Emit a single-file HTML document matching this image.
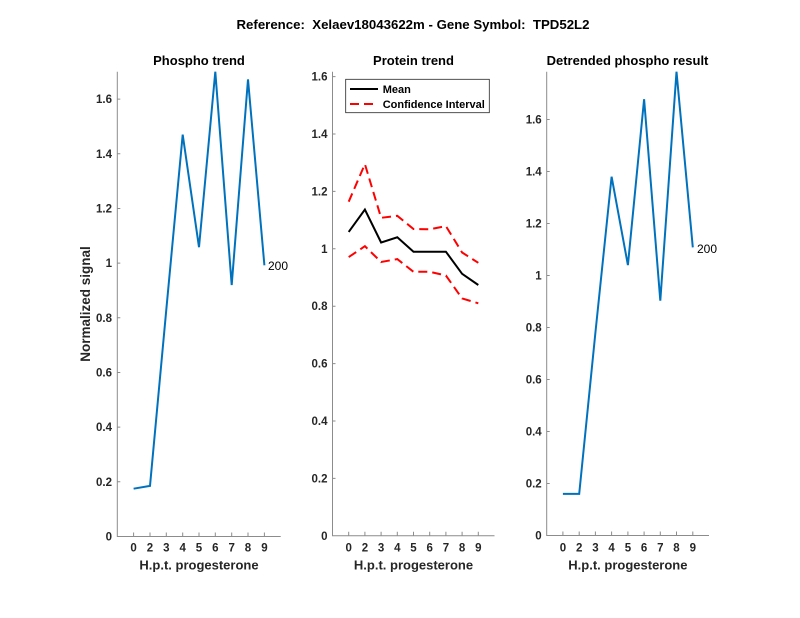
<!DOCTYPE html>
<html><head><meta charset="utf-8"><style>
html,body{margin:0;padding:0;background:#fff;}
svg{display:block;}
text{font-family:"Liberation Sans",Arial,sans-serif;fill:#262626;}
.t{font-size:11.5px;font-weight:bold;}
.ti{font-size:13px;font-weight:bold;fill:#000;}
.ax{stroke:#8c8c8c;stroke-width:1;fill:none;}
</style></head><body>
<svg width="800" height="618" viewBox="0 0 800 618" xmlns="http://www.w3.org/2000/svg">
<rect width="800" height="618" fill="#fff"/>
<text class="ti" x="413" y="29" text-anchor="middle" textLength="353" lengthAdjust="spacingAndGlyphs" xml:space="preserve">Reference:&#160; Xelaev18043622m - Gene Symbol:&#160; TPD52L2</text>

<!-- Panel 1 -->
<text class="ti" x="199" y="65" text-anchor="middle">Phospho trend</text>
<path class="ax" d="M117.3,71.7 V536.5 H280.7"/>
<g class="ax">
<path d="M133.6,536.5v-4 M150,536.5v-4 M166.3,536.5v-4 M182.7,536.5v-4 M199,536.5v-4 M215.3,536.5v-4 M231.7,536.5v-4 M248,536.5v-4 M264.4,536.5v-4"/>
<path d="M117.3,481.8h3 M117.3,427.1h3 M117.3,372.5h3 M117.3,317.8h3 M117.3,263.1h3 M117.3,208.5h3 M117.3,153.8h3 M117.3,99.1h3"/>
</g>
<g class="t" text-anchor="end">
<text x="112" y="540.5">0</text><text x="112" y="485.8">0.2</text><text x="112" y="431.1">0.4</text><text x="112" y="376.5">0.6</text><text x="112" y="321.8">0.8</text><text x="112" y="267.1">1</text><text x="112" y="212.5">1.2</text><text x="112" y="157.8">1.4</text><text x="112" y="103.1">1.6</text>
</g>
<g class="t" text-anchor="middle">
<text x="133.6" y="551.5">0</text><text x="150" y="551.5">2</text><text x="166.3" y="551.5">3</text><text x="182.7" y="551.5">4</text><text x="199" y="551.5">5</text><text x="215.3" y="551.5">6</text><text x="231.7" y="551.5">7</text><text x="248" y="551.5">8</text><text x="264.4" y="551.5">9</text>
</g>
<text class="ti" x="199" y="569.5" text-anchor="middle" style="fill:#262626">H.p.t. progesterone</text>
<text class="ti" transform="translate(90,304) rotate(-90)" text-anchor="middle" style="fill:#262626;font-size:13.5px">Normalized signal</text>
<polyline fill="none" stroke="#0072BD" stroke-width="2" stroke-linejoin="miter" points="133.6,488.7 150,485.9 166.3,309.6 182.7,134.6 199,247.2 215.3,71.7 231.7,285 248,79.4 264.4,265.3"/>
<text x="268" y="270" style="font-size:12px;fill:#000">200</text>

<!-- Panel 2 -->
<text class="ti" x="413.5" y="65" text-anchor="middle">Protein trend</text>
<path class="ax" d="M332.5,71.7 V535.8 H494.5"/>
<g class="ax">
<path d="M348.7,535.8v-4 M364.9,535.8v-4 M381.1,535.8v-4 M397.3,535.8v-4 M413.5,535.8v-4 M429.7,535.8v-4 M445.9,535.8v-4 M462.1,535.8v-4 M478.3,535.8v-4"/>
<path d="M332.5,478.4h3 M332.5,421h3 M332.5,363.6h3 M332.5,306.2h3 M332.5,248.8h3 M332.5,191.4h3 M332.5,134h3 M332.5,76.6h3"/>
</g>
<g class="t" text-anchor="end">
<text x="327.5" y="539.8">0</text><text x="327.5" y="482.4">0.2</text><text x="327.5" y="425">0.4</text><text x="327.5" y="367.6">0.6</text><text x="327.5" y="310.2">0.8</text><text x="327.5" y="252.8">1</text><text x="327.5" y="195.4">1.2</text><text x="327.5" y="138">1.4</text><text x="327.5" y="80.6">1.6</text>
</g>
<g class="t" text-anchor="middle">
<text x="348.7" y="551.5">0</text><text x="364.9" y="551.5">2</text><text x="381.1" y="551.5">3</text><text x="397.3" y="551.5">4</text><text x="413.5" y="551.5">5</text><text x="429.7" y="551.5">6</text><text x="445.9" y="551.5">7</text><text x="462.1" y="551.5">8</text><text x="478.3" y="551.5">9</text>
</g>
<text class="ti" x="413.5" y="569.5" text-anchor="middle" style="fill:#262626">H.p.t. progesterone</text>
<polyline fill="none" stroke="#ff0000" stroke-width="2" stroke-dasharray="9,5" points="348.7,201.7 364.9,164.1 381.1,217.8 397.3,215.8 413.5,229 429.7,229.3 445.9,226.1 462.1,252.5 478.3,262.8"/>
<polyline fill="none" stroke="#ff0000" stroke-width="2" stroke-dasharray="9,5" points="348.7,257.1 364.9,246.2 381.1,262 397.3,259.1 413.5,271.8 429.7,271.8 445.9,275.5 462.1,298.4 478.3,303.3"/>
<polyline fill="none" stroke="#000" stroke-width="2" points="348.7,231.9 364.9,209.5 381.1,242.5 397.3,237.3 413.5,251.7 429.7,251.7 445.9,251.7 462.1,273.8 478.3,285"/>
<rect x="345.7" y="79.3" width="143.6" height="33.4" fill="#fff" stroke="#262626" stroke-width="0.8"/>
<line x1="350" y1="89" x2="378" y2="89" stroke="#000" stroke-width="2"/>
<line x1="350" y1="104" x2="378" y2="104" stroke="#ff0000" stroke-width="2" stroke-dasharray="9,5"/>
<text class="t" x="382.7" y="93" style="fill:#000;font-size:11px">Mean</text>
<text class="t" x="382.7" y="108" style="fill:#000;font-size:11px">Confidence Interval</text>

<!-- Panel 3 -->
<text class="ti" x="627.5" y="65" text-anchor="middle">Detrended phospho result</text>
<path class="ax" d="M546.7,71.7 V535.5 H709"/>
<g class="ax">
<path d="M562.9,535.5v-4 M579.2,535.5v-4 M595.4,535.5v-4 M611.6,535.5v-4 M627.9,535.5v-4 M644.1,535.5v-4 M660.3,535.5v-4 M676.5,535.5v-4 M692.8,535.5v-4"/>
<path d="M546.7,483.5h3 M546.7,431.5h3 M546.7,379.5h3 M546.7,327.5h3 M546.7,275.5h3 M546.7,223.5h3 M546.7,171.5h3 M546.7,119.5h3"/>
</g>
<g class="t" text-anchor="end">
<text x="541.7" y="539.5">0</text><text x="541.7" y="487.5">0.2</text><text x="541.7" y="435.5">0.4</text><text x="541.7" y="383.5">0.6</text><text x="541.7" y="331.5">0.8</text><text x="541.7" y="279.5">1</text><text x="541.7" y="227.5">1.2</text><text x="541.7" y="175.5">1.4</text><text x="541.7" y="123.5">1.6</text>
</g>
<g class="t" text-anchor="middle">
<text x="562.9" y="551.5">0</text><text x="579.2" y="551.5">2</text><text x="595.4" y="551.5">3</text><text x="611.6" y="551.5">4</text><text x="627.9" y="551.5">5</text><text x="644.1" y="551.5">6</text><text x="660.3" y="551.5">7</text><text x="676.5" y="551.5">8</text><text x="692.8" y="551.5">9</text>
</g>
<text class="ti" x="627.9" y="569.5" text-anchor="middle" style="fill:#262626">H.p.t. progesterone</text>
<polyline fill="none" stroke="#0072BD" stroke-width="2" points="562.9,493.9 579.2,493.9 595.4,332.7 611.6,176.7 627.9,265.1 644.1,99.2 660.3,300.7 676.5,71.7 692.8,247.4"/>
<text x="697" y="253" style="font-size:12px;fill:#000">200</text>
</svg>
</body></html>
